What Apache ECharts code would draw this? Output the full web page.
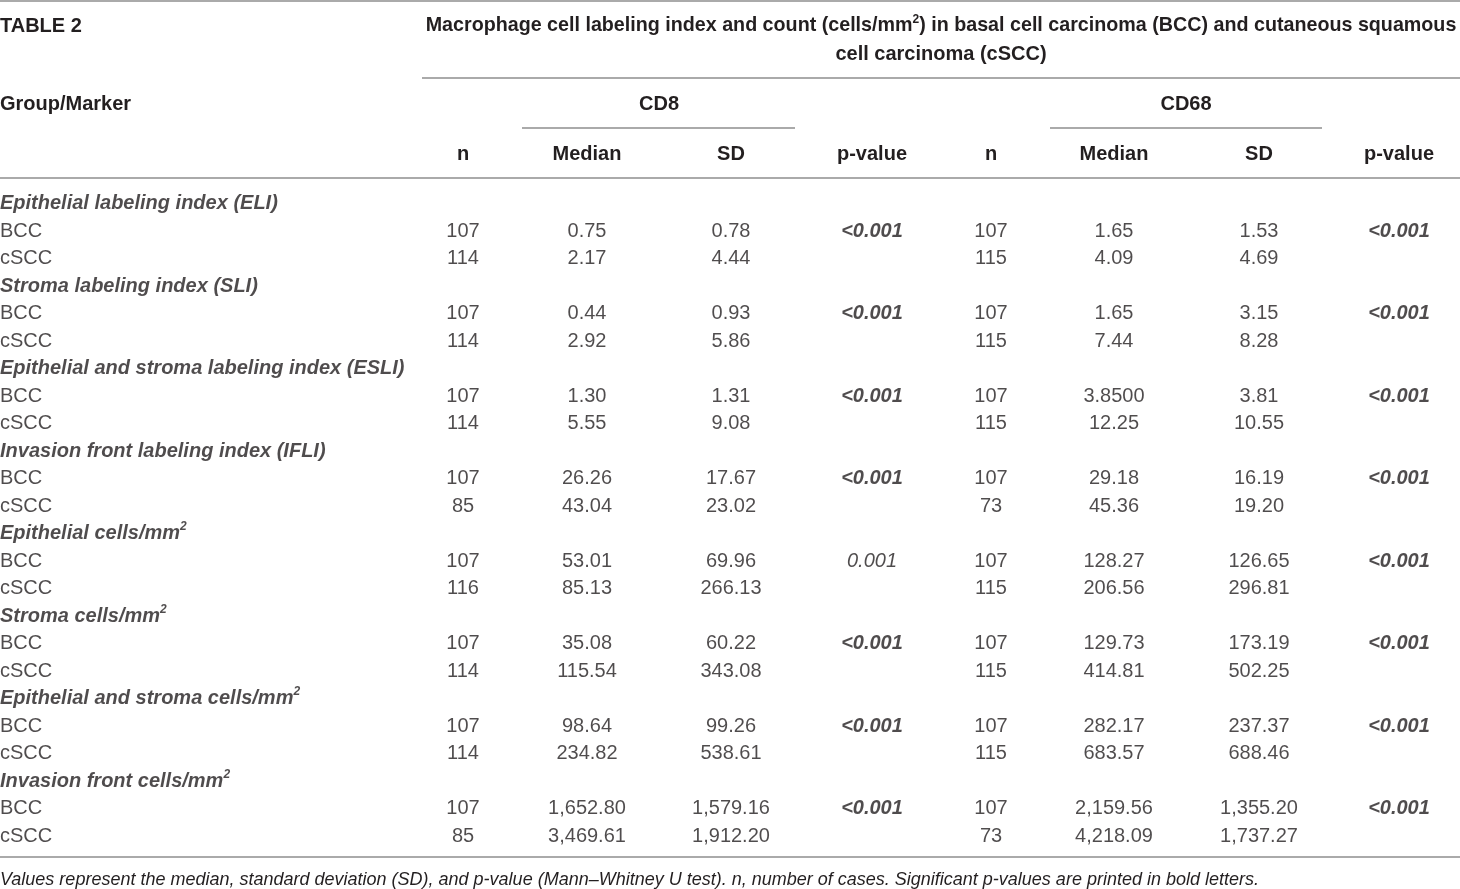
<!DOCTYPE html>
<html>
<head>
<meta charset="utf-8">
<script src="https://cdn.jsdelivr.net/npm/echarts@6/dist/echarts.min.js"></script>
<style>
html,body{margin:0;padding:0;background:#fff;overflow:hidden;}
#main{width:1460px;height:889px;}
</style>
</head>
<body>
<div id="main"></div>
<script>
// table data
var sections = ['Epithelial labeling index (ELI)', 'Stroma labeling index (SLI)',
    'Epithelial and stroma labeling index (ESLI)', 'Invasion front labeling index (IFLI)',
    'Epithelial cells/mm^2', 'Stroma cells/mm^2', 'Epithelial and stroma cells/mm^2',
    'Invasion front cells/mm^2'];
var groups = ['BCC', 'cSCC'];

var cd8N_BCC = ['107', '107', '107', '107', '107', '107', '107', '107'];
var cd8N_cSCC = ['114', '114', '114', '85', '116', '114', '114', '85'];
var cd8Median_BCC = ['0.75', '0.44', '1.30', '26.26', '53.01', '35.08', '98.64', '1,652.80'];
var cd8Median_cSCC = ['2.17', '2.92', '5.55', '43.04', '85.13', '115.54', '234.82', '3,469.61'];
var cd8SD_BCC = ['0.78', '0.93', '1.31', '17.67', '69.96', '60.22', '99.26', '1,579.16'];
var cd8SD_cSCC = ['4.44', '5.86', '9.08', '23.02', '266.13', '343.08', '538.61', '1,912.20'];
var cd8P = ['<0.001', '<0.001', '<0.001', '<0.001', '0.001', '<0.001', '<0.001', '<0.001'];

var cd68N_BCC = ['107', '107', '107', '107', '107', '107', '107', '107'];
var cd68N_cSCC = ['115', '115', '115', '73', '115', '115', '115', '73'];
var cd68Median_BCC = ['1.65', '1.65', '3.8500', '29.18', '128.27', '129.73', '282.17', '2,159.56'];
var cd68Median_cSCC = ['4.09', '7.44', '12.25', '45.36', '206.56', '414.81', '683.57', '4,218.09'];
var cd68SD_BCC = ['1.53', '3.15', '3.81', '16.19', '126.65', '173.19', '237.37', '1,355.20'];
var cd68SD_cSCC = ['4.69', '8.28', '10.55', '19.20', '296.81', '502.25', '688.46', '1,737.27'];
var cd68P = ['<0.001', '<0.001', '<0.001', '<0.001', '<0.001', '<0.001', '<0.001', '<0.001'];

var headerCols = ['n', 'Median', 'SD', 'p-value', 'n', 'Median', 'SD', 'p-value'];

// layout
var FONT = "'Liberation Sans Narrow', 'Liberation Sans', Arial, sans-serif";
var INK = '#231f20';
var RULE = '#aaaaaa';
var colX = [463, 587, 731, 872, 991, 1114, 1259, 1399];

// rows: for each section a heading row, then BCC and cSCC
var rowKeys = [];
var firstCol = [];
var cols = [[], [], [], [], [], [], [], []];
for (var i = 0; i < sections.length; i++) {
    rowKeys.push('s' + i);
    firstCol.push({text: sections[i], head: true});
    for (var c = 0; c < 8; c++) cols[c].push('');
    rowKeys.push('b' + i);
    firstCol.push({text: groups[0], head: false});
    cols[0].push(cd8N_BCC[i]); cols[1].push(cd8Median_BCC[i]);
    cols[2].push(cd8SD_BCC[i]); cols[3].push(cd8P[i]);
    cols[4].push(cd68N_BCC[i]); cols[5].push(cd68Median_BCC[i]);
    cols[6].push(cd68SD_BCC[i]); cols[7].push(cd68P[i]);
    rowKeys.push('c' + i);
    firstCol.push({text: groups[1], head: false});
    cols[0].push(cd8N_cSCC[i]); cols[1].push(cd8Median_cSCC[i]);
    cols[2].push(cd8SD_cSCC[i]); cols[3].push('');
    cols[4].push(cd68N_cSCC[i]); cols[5].push(cd68Median_cSCC[i]);
    cols[6].push(cd68SD_cSCC[i]); cols[7].push('');
}

function supText(s, style) {
    var parts = s.split('^');
    if (parts.length == 1) return '{' + style + '|' + s + '}';
    return '{' + style + '|' + parts[0] + '}{sup|' + parts[1] + '}';
}

function txt(size, weight, style, lh) {
    return {fontFamily: FONT, fontSize: size, fontWeight: weight, fontStyle: style, color: INK,
        lineHeight: lh, textBorderWidth: 0, textShadowBlur: 0};
}

var rich = {
    sec: txt(20, 'bold', 'italic', 26),
    sup: {fontFamily: FONT, fontSize: 12, fontWeight: 'bold', fontStyle: 'italic', color: INK,
        lineHeight: 14, verticalAlign: 'top', textBorderWidth: 0},
    body: txt(20, 'normal', 'normal', 26),
    sig: txt(20, 'bold', 'italic', 26),
    ns: txt(20, 'normal', 'italic', 26)
};

var series = [];
series.push({
    type: 'scatter',
    symbolSize: 0,
    silent: true,
    data: firstCol.map(function (d, r) { return [0, r, d.text, d.head]; }),
    label: {
        show: true, position: 'inside', align: 'left', color: INK, textBorderWidth: 0,
        formatter: function (p) {
            return p.data[3] ? supText(p.data[2], 'sec') : '{body|' + p.data[2] + '}';
        },
        rich: rich
    }
});
cols.forEach(function (col, c) {
    series.push({
        type: 'scatter',
        symbolSize: 0,
        silent: true,
        data: col.map(function (v, r) { return [colX[c], r, v]; }),
        label: {
            show: true, position: 'inside', align: 'center', color: INK, textBorderWidth: 0,
            formatter: function (p) {
                var v = p.data[2];
                if (!v) return '';
                if (c == 3 || c == 7) return v.charAt(0) == '<' ? '{sig|' + v + '}' : '{ns|' + v + '}';
                return '{body|' + v + '}';
            },
            rich: rich
        }
    });
});

var headStyle = {fontFamily: FONT, fontSize: 20, fontWeight: 'bold', color: INK};
var titles = [
    {text: 'TABLE 2', left: 0, top: 16, textStyle: headStyle},
    {text: '{h|Macrophage cell labeling index and count (cells/mm}{hs|2}{h|) in basal cell carcinoma (BCC) and cutaneous squamous}',
        left: 941, top: 14, textAlign: 'center',
        textStyle: {rich: {h: {fontFamily: FONT, fontSize: 19.7, fontWeight: 'bold', color: INK, lineHeight: 24},
            hs: {fontFamily: FONT, fontSize: 12, fontWeight: 'bold', color: INK, lineHeight: 14, verticalAlign: 'top'}}}},
    {text: 'cell carcinoma (cSCC)', left: 941, top: 44, textAlign: 'center', textStyle: headStyle},
    {text: 'Group/Marker', left: 0, top: 94, textStyle: headStyle},
    {text: 'CD8', left: 659, top: 94, textAlign: 'center', textStyle: headStyle},
    {text: 'CD68', left: 1186, top: 94, textAlign: 'center', textStyle: headStyle},
    {text: 'Values represent the median, standard deviation (SD), and p-value (Mann\u2013Whitney U test). n, number of cases. Significant p-values are printed in bold letters.',
        left: 0, top: 871, textStyle: {fontFamily: FONT, fontSize: 18, fontWeight: 'normal', fontStyle: 'italic', color: INK}}
];
headerCols.forEach(function (h, c) {
    titles.push({text: h, left: colX[c], top: 144, textAlign: 'center', textStyle: headStyle});
});
titles.forEach(function (t) { t.padding = 0; });

function rule(x1, x2, y) {
    return {type: 'line', shape: {x1: x1, y1: y, x2: x2, y2: y}, style: {stroke: RULE, lineWidth: 2}, silent: true};
}

var myChart = echarts.init(document.getElementById('main'));
var option = {
    backgroundColor: '#fff',
    animation: false,
    title: titles,
    grid: {left: 0, right: 0, top: 190, bottom: 39, containLabel: false},
    xAxis: {type: 'value', min: 0, max: 1460, show: false},
    yAxis: {type: 'category', data: rowKeys, inverse: true, show: false},
    graphic: [
        rule(0, 1460, 1),
        rule(422, 1460, 78),
        rule(522, 795, 128),
        rule(1050, 1322, 128),
        rule(0, 1460, 178),
        rule(0, 1460, 857)
    ],
    series: series
};
myChart.setOption(option);
</script>
</body>
</html>
